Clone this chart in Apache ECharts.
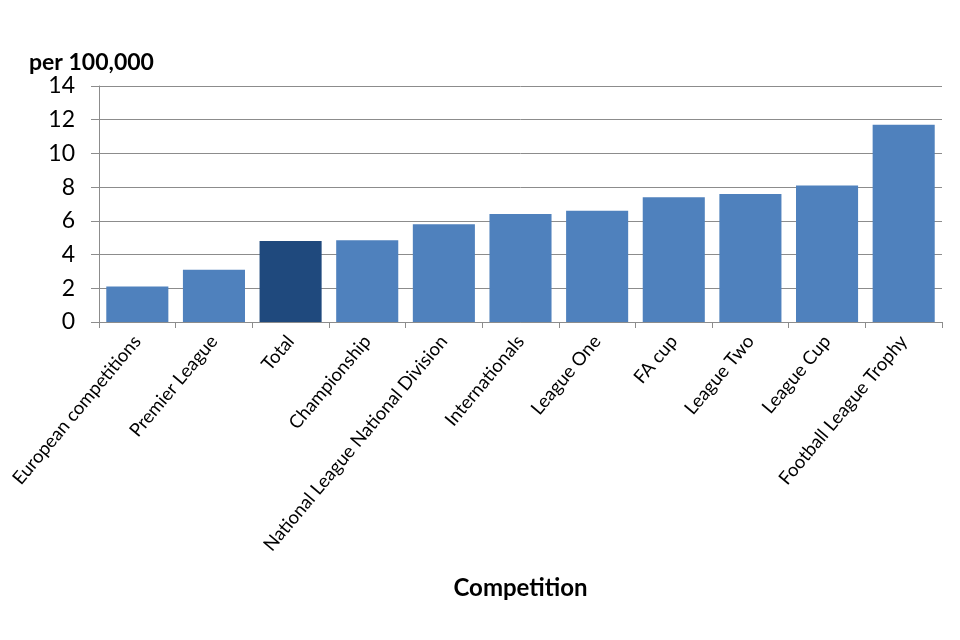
<!DOCTYPE html>
<html>
<head>
<meta charset="utf-8">
<script src="https://cdn.jsdelivr.net/npm/echarts@6/dist/echarts.min.js"></script>
<style>html,body{margin:0;padding:0;background:#fff}#c{width:960px;height:640px}</style>
</head>
<body>
<div id="c"></div>
<script>
var categories = ["European competitions","Premier League","Total","Championship","National League National Division","Internationals","League One","FA cup","League Two","League Cup","Football League Trophy"];
var values = [2.1, 3.1, 4.8, 4.85, 5.8, 6.4, 6.6, 7.4, 7.6, 8.1, 11.7];
var highlight = "Total";

var FONT = "Lato, 'Open Sans', sans-serif";
var chart = echarts.init(document.getElementById('c'));
chart.setOption({
  animation: false,
  backgroundColor: '#fff',
  title: {
    text: 'per 100,000', left: 24, top: 46,
    textStyle: {fontFamily: FONT, fontSize: 23, fontWeight: 'bold', color: '#000'}
  },
  grid: {left: 99, right: 18, top: 86, bottom: 318, containLabel: false},
  xAxis: {
    type: 'category', data: categories,
    name: 'Competition', nameLocation: 'middle', nameGap: 254,
    nameTextStyle: {fontFamily: FONT, fontSize: 24, fontWeight: 'bold', color: '#000'},
    axisLine: {lineStyle: {color: '#8c8c8c', width: 1}},
    axisTick: {show: true, alignWithLabel: false, length: 6, lineStyle: {color: '#8c8c8c'}},
    axisLabel: {rotate: 50, interval: 0, fontFamily: FONT, fontSize: 18.5, color: '#000', margin: 16}
  },
  yAxis: {
    type: 'value', min: 0, max: 14, interval: 2,
    axisLine: {show: true, lineStyle: {color: '#8c8c8c', width: 1}},
    axisTick: {show: true, length: 8, inside: false, lineStyle: {color: '#8c8c8c'}},
    splitLine: {show: true, lineStyle: {color: '#8c8c8c', width: 1}},
    axisLabel: {fontFamily: FONT, fontSize: 23, color: '#000', margin: 24}
  },
  series: [{
    type: 'bar', barCategoryGap: '19%',
    data: values.map(function(v, i){
      return {value: v, itemStyle: {color: categories[i] === highlight ? '#1f497d' : '#4f81bd'}};
    })
  }]
});
</script>
</body>
</html>
